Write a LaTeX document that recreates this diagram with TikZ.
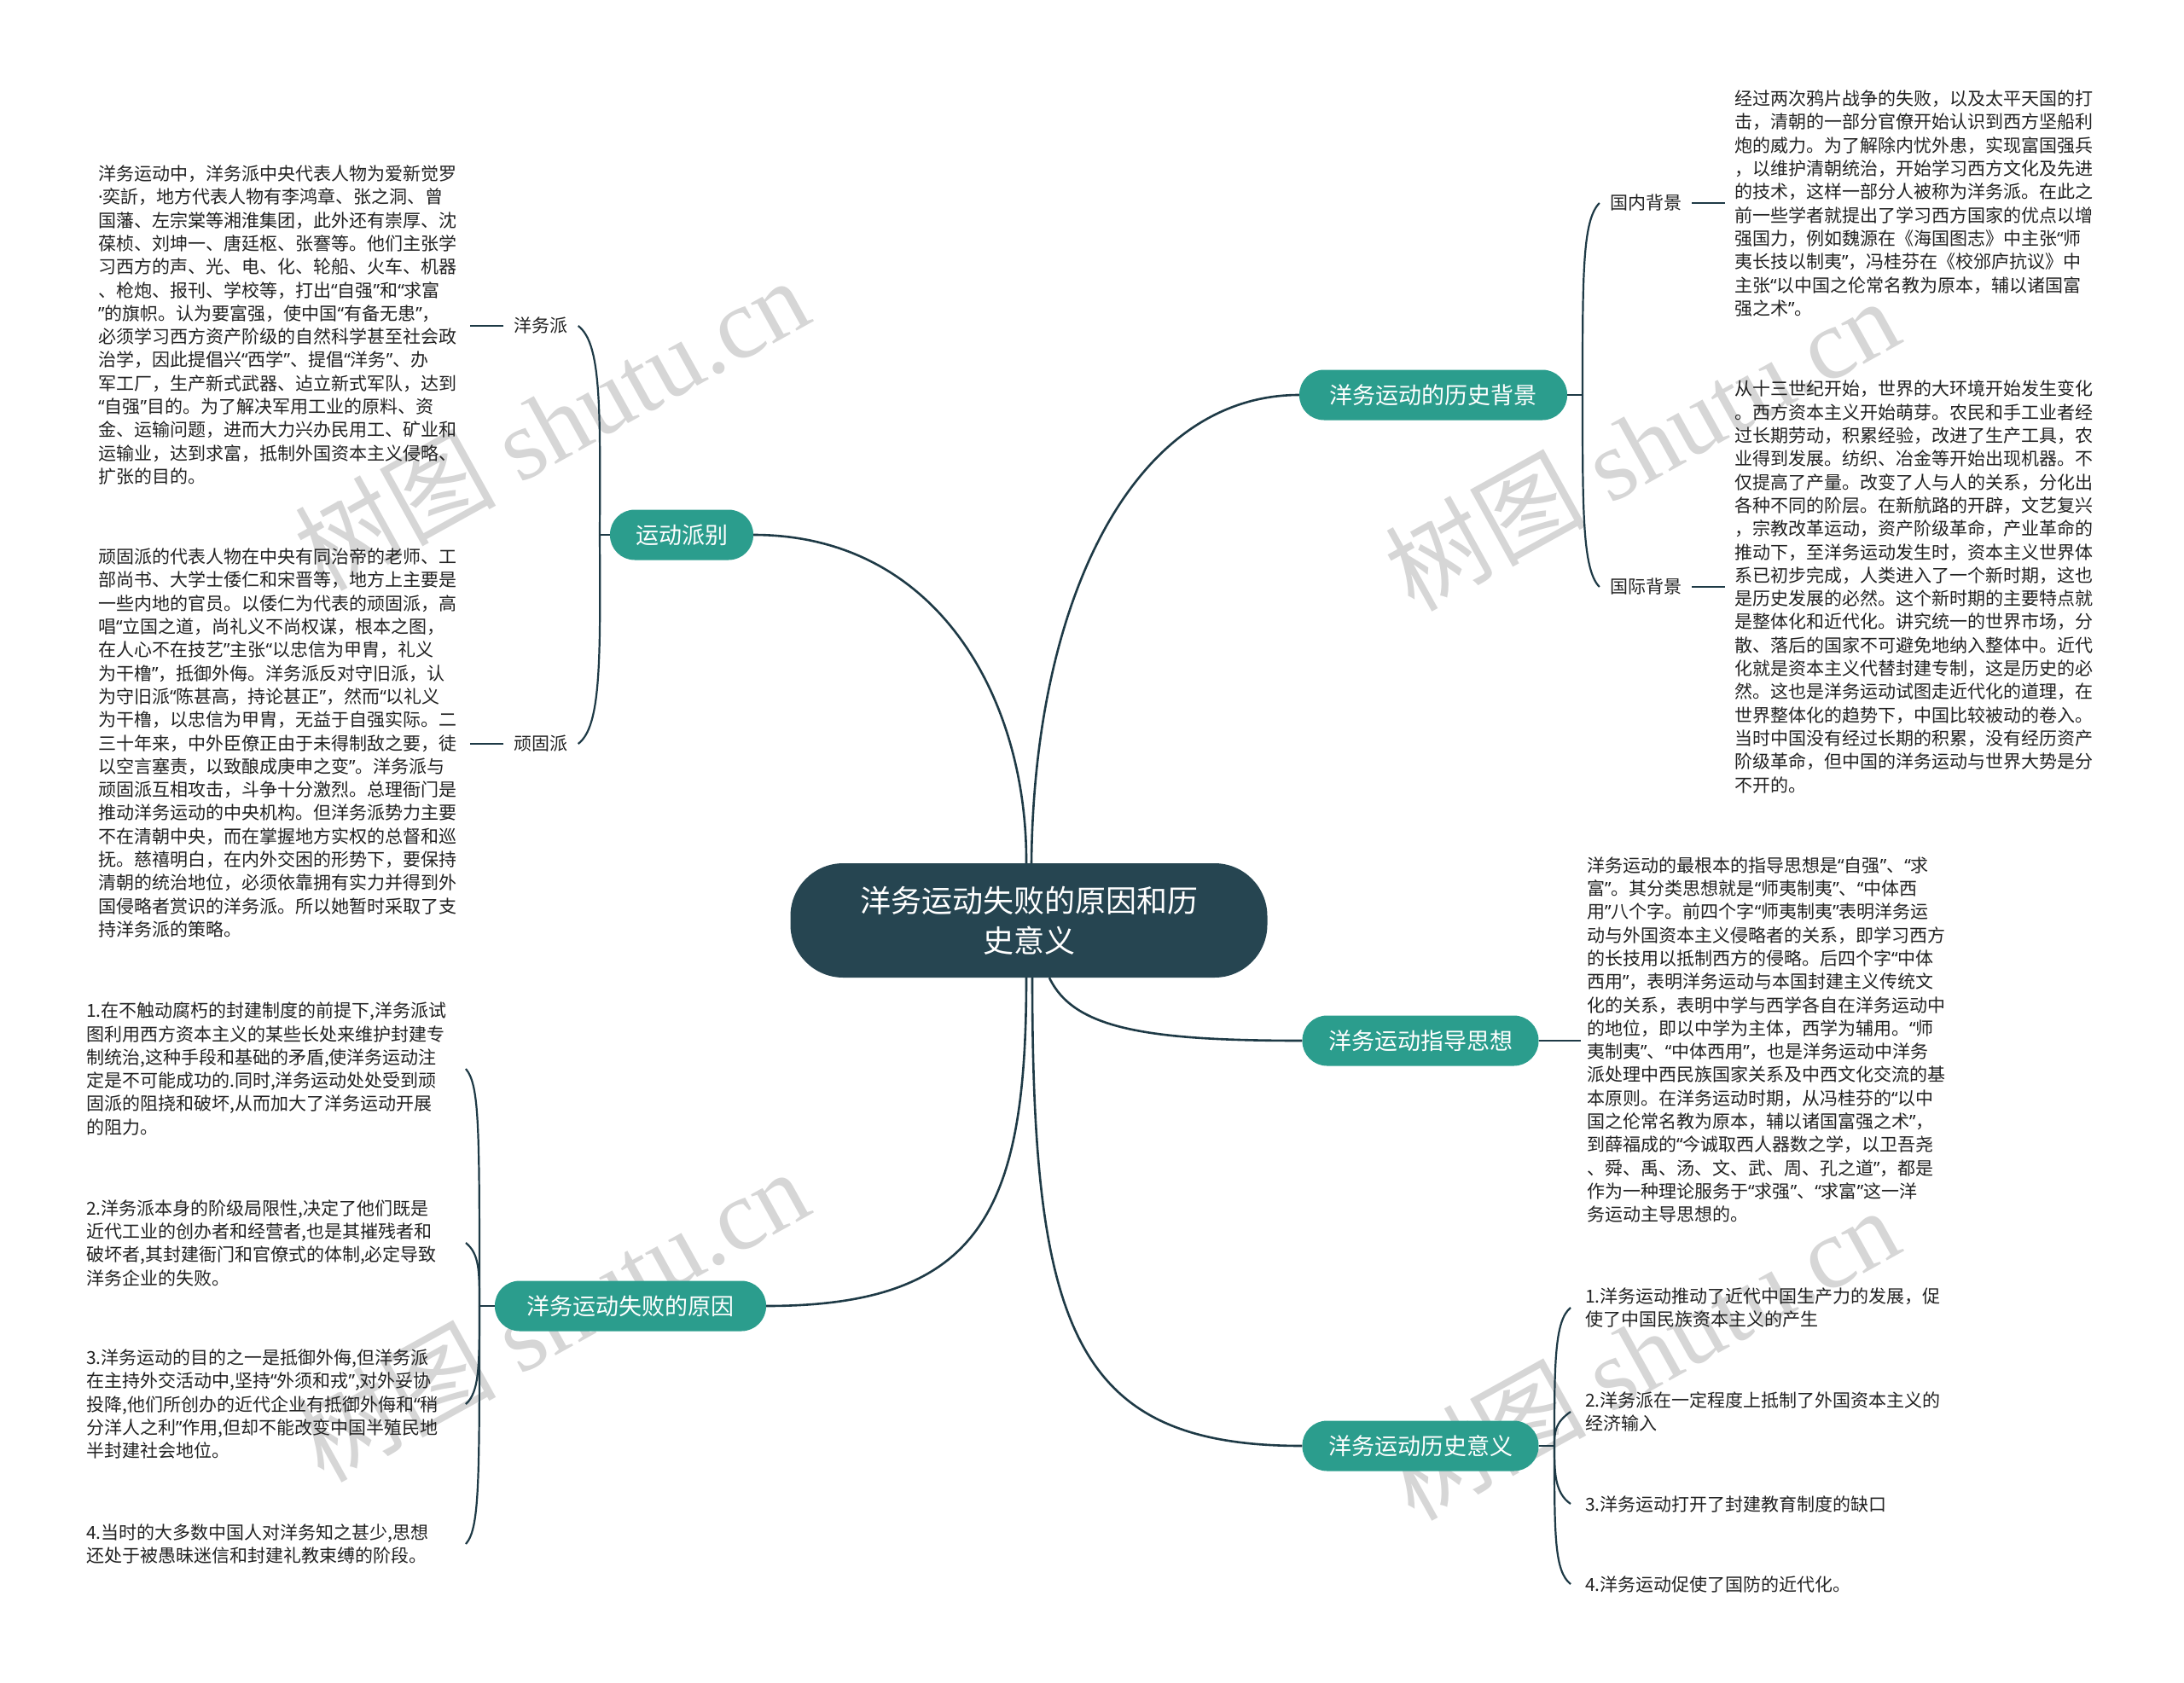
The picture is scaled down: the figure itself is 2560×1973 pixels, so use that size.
\documentclass[tikz,border=0pt]{standalone}
\usepackage{fontspec}
\setmainfont{Noto Sans CJK SC}
\newfontfamily\wmserif{Liberation Serif}
\newfontfamily\qfont{Noto Sans}
\catcode`“=\active
\catcode`”=\active
\def“{{\qfont\symbol{"201C}}}
\def”{{\qfont\symbol{"201D}}}
\definecolor{hubcol}{RGB}{38,69,81}
\definecolor{branchcol}{RGB}{43,157,141}
\definecolor{edgecol}{RGB}{30,58,70}
\definecolor{wmcol}{RGB}{214,214,214}
\definecolor{txtcol}{RGB}{34,34,34}
\newcommand\txtsz{\fontsize{21pt}{27.3pt}\selectfont}
\newcommand\brsz{\fontsize{27pt}{32pt}\selectfont}
\newcommand\hubsz{\fontsize{36pt}{47pt}\selectfont}
\newcommand\wmsz{\fontsize{118pt}{120pt}\selectfont}
\begin{document}
\begin{tikzpicture}[x=1pt,y=-1pt,
  hubnode/.style={fill=hubcol, text=white, rounded corners=62pt, minimum width=559pt, minimum height=134pt, inner sep=0pt, align=center, font=\hubsz},
  branchnode/.style={fill=branchcol, text=white, rounded corners=29pt, minimum height=59pt, inner sep=0pt, font=\brsz},
  leaflabel/.style={inner xsep=12pt, inner ysep=0pt, font=\txtsz, text=txtcol},
  textblock/.style={anchor=west, align=left, inner sep=0pt, font=\txtsz, text=txtcol},
  mainedge/.style={draw=edgecol, line width=2.6pt},
  subedge/.style={draw=edgecol, line width=2.2pt},
  watermark/.style={rotate=29, text=wmcol, font=\wmsz, inner sep=0pt}
]
\useasboundingbox (0,0) rectangle (2560,1973);
\fill[white] (0,0) rectangle (2560,1973);

% watermarks
\node[watermark] (wm1) at (646,496) {树图 {\wmserif shutu.cn}};
\node[watermark] (wm2) at (1924,520) {树图 {\wmserif shutu.cn}};
\node[watermark] (wm3) at (646,1541) {树图 {\wmserif shutu.cn}};
\node[watermark] (wm4) at (1924,1586) {树图 {\wmserif shutu.cn}};

% hub and branches
\node[hubnode] (hub) at (1206,1079) {洋务运动失败的原因和历\\史意义};
\node[branchnode, minimum width=314pt] (bj) at (1680,463) {洋务运动的历史背景};
\node[branchnode, minimum width=168pt] (pb) at (799,627) {运动派别};
\node[branchnode, minimum width=277pt] (zd) at (1665,1220) {洋务运动指导思想};
\node[branchnode, minimum width=318pt] (sb) at (739,1531) {洋务运动失败的原因};
\node[branchnode, minimum width=277pt] (yy) at (1665,1695) {洋务运动历史意义};

% leaf labels
\node[leaflabel] (lblY) at (634,382) {洋务派};
\node[leaflabel] (lblW) at (634,872) {顽固派};
\node[leaflabel] (lblN) at (1929,238) {国内背景};
\node[leaflabel] (lblI) at (1929,688) {国际背景};

% text blocks
\node[textblock] (blkY) at (115,381) {洋务运动中，洋务派中央代表人物为爱新觉罗\\
{\qfont ·}奕訢，地方代表人物有李鸿章、张之洞、曾\\
国藩、左宗棠等湘淮集团，此外还有崇厚、沈\\
葆桢、刘坤一、唐廷枢、张謇等。他们主张学\\
习西方的声、光、电、化、轮船、火车、机器\\
、枪炮、报刊、学校等，打出“自强”和“求富\\
”的旗帜。认为要富强，使中国“有备无患”，\\
必须学习西方资产阶级的自然科学甚至社会政\\
治学，因此提倡兴“西学”、提倡“洋务”、办\\
军工厂，生产新式武器、迠立新式军队，达到\\
“自强”目的。为了解决军用工业的原料、资\\
金、运输问题，进而大力兴办民用工、矿业和\\
运输业，达到求富，抵制外国资本主义侵略、\\
扩张的目的。};

\node[textblock] (blkW) at (115,871) {顽固派的代表人物在中央有同治帝的老师、工\\
部尚书、大学士倭仁和宋晋等，地方上主要是\\
一些内地的官员。以倭仁为代表的顽固派，高\\
唱“立国之道，尚礼义不尚权谋，根本之图，\\
在人心不在技艺”主张“以忠信为甲胄，礼义\\
为干橹”，抵御外侮。洋务派反对守旧派，认\\
为守旧派“陈甚高，持论甚正”，然而“以礼义\\
为干橹，以忠信为甲胄，无益于自强实际。二\\
三十年来，中外臣僚正由于未得制敌之要，徒\\
以空言塞责，以致酿成庚申之变”。洋务派与\\
顽固派互相攻击，斗争十分激烈。总理衙门是\\
推动洋务运动的中央机构。但洋务派势力主要\\
不在清朝中央，而在掌握地方实权的总督和巡\\
抚。慈禧明白，在内外交困的形势下，要保持\\
清朝的统治地位，必须依靠拥有实力并得到外\\
国侵略者赏识的洋务派。所以她暂时采取了支\\
持洋务派的策略。};

\node[textblock] (blkN) at (2033,238.5) {经过两次鸦片战争的失败，以及太平天国的打\\
击，清朝的一部分官僚开始认识到西方坚船利\\
炮的威力。为了解除内忧外患，实现富国强兵\\
，以维护清朝统治，开始学习西方文化及先进\\
的技术，这样一部分人被称为洋务派。在此之\\
前一些学者就提出了学习西方国家的优点以增\\
强国力，例如魏源在《海国图志》中主张“师\\
夷长技以制夷”，冯桂芬在《校邠庐抗议》中\\
主张“以中国之伦常名教为原本，辅以诸国富\\
强之术”。};

\node[textblock] (blkI) at (2033,688) {从十三世纪开始，世界的大环境开始发生变化\\
。西方资本主义开始萌芽。农民和手工业者经\\
过长期劳动，积累经验，改进了生产工具，农\\
业得到发展。纺织、冶金等开始出现机器。不\\
仅提高了产量。改变了人与人的关系，分化出\\
各种不同的阶层。在新航路的开辟，文艺复兴\\
，宗教改革运动，资产阶级革命，产业革命的\\
推动下，至洋务运动发生时，资本主义世界体\\
系已初步完成，人类进入了一个新时期，这也\\
是历史发展的必然。这个新时期的主要特点就\\
是整体化和近代化。讲究统一的世界市场，分\\
散、落后的国家不可避免地纳入整体中。近代\\
化就是资本主义代替封建专制，这是历史的必\\
然。这也是洋务运动试图走近代化的道理，在\\
世界整体化的趋势下，中国比较被动的卷入。\\
当时中国没有经过长期的积累，没有经历资产\\
阶级革命，但中国的洋务运动与世界大势是分\\
不开的。};

\node[textblock] (blkZ) at (1860,1219) {洋务运动的最根本的指导思想是“自强”、“求\\
富”。其分类思想就是“师夷制夷”、“中体西\\
用”八个字。前四个字“师夷制夷”表明洋务运\\
动与外国资本主义侵略者的关系，即学习西方\\
的长技用以抵制西方的侵略。后四个字“中体\\
西用”，表明洋务运动与本国封建主义传统文\\
化的关系，表明中学与西学各自在洋务运动中\\
的地位，即以中学为主体，西学为辅用。“师\\
夷制夷”、“中体西用”，也是洋务运动中洋务\\
派处理中西民族国家关系及中西文化交流的基\\
本原则。在洋务运动时期，从冯桂芬的“以中\\
国之伦常名教为原本，辅以诸国富强之术”，\\
到薛福成的“今诚取西人器数之学，以卫吾尧\\
、舜、禹、汤、文、武、周、孔之道”，都是\\
作为一种理论服务于“求强”、“求富”这一洋\\
务运动主导思想的。};

\node[textblock] (f1) at (101,1253) {1.在不触动腐朽的封建制度的前提下,洋务派试\\
图利用西方资本主义的某些长处来维护封建专\\
制统治,这种手段和基础的矛盾,使洋务运动注\\
定是不可能成功的.同时,洋务运动处处受到顽\\
固派的阻挠和破坏,从而加大了洋务运动开展\\
的阻力。};
\node[textblock] (f2) at (101,1457) {2.洋务派本身的阶级局限性,决定了他们既是\\
近代工业的创办者和经营者,也是其摧残者和\\
破坏者,其封建衙门和官僚式的体制,必定导致\\
洋务企业的失败。};
\node[textblock] (f3) at (101,1646) {3.洋务运动的目的之一是抵御外侮,但洋务派\\
在主持外交活动中,坚持“外须和戎”,对外妥协\\
投降,他们所创办的近代企业有抵御外侮和“稍\\
分洋人之利”作用,但却不能改变中国半殖民地\\
半封建社会地位。};
\node[textblock] (f4) at (101,1810) {4.当时的大多数中国人对洋务知之甚少,思想\\
还处于被愚昧迷信和封建礼教束缚的阶段。};

\node[textblock] (s1) at (1858,1533) {1.洋务运动推动了近代中国生产力的发展，促\\
使了中国民族资本主义的产生};
\node[textblock] (s2) at (1858,1655) {2.洋务派在一定程度上抵制了外国资本主义的\\
经济输入};
\node[textblock] (s3) at (1858,1763) {3.洋务运动打开了封建教育制度的缺口};
\node[textblock] (s4) at (1858,1857) {4.洋务运动促使了国防的近代化。};

% main connectors
\draw[mainedge] ([xshift=-3pt]hub.north) .. controls (1204,820) and (1100,627) .. (pb.east);
\draw[mainedge] ([xshift=3pt]hub.north) .. controls (1212,700) and (1330,463) .. (bj.west);
\draw[mainedge] ([xshift=24pt]hub.south) .. controls (1258,1205) and (1340,1220) .. (zd.west);
\draw[mainedge] ([xshift=-3pt]hub.south) .. controls (1203,1420) and (1150,1531) .. (sb.east);
\draw[mainedge] ([xshift=4pt]hub.south) .. controls (1210,1560) and (1260,1695) .. (yy.west);

% junctions and tips
\coordinate (jP) at (703,627);
\coordinate (jB) at (1855,463);
\coordinate (jS) at (562,1531);
\coordinate (jY) at (1822,1695);
\coordinate (dY) at (551,382);
\coordinate (dW) at (551,872);
\coordinate (dN) at (2022,238);
\coordinate (dI) at (2022,688);
\coordinate (dZ) at (1853,1220);
\coordinate (tf1) at (546,1253);
\coordinate (tf2) at (546,1457);
\coordinate (tf3) at (546,1646);
\coordinate (tf4) at (546,1810);
\coordinate (ts1) at (1841,1533);
\coordinate (ts2) at (1841,1655);
\coordinate (ts3) at (1841,1763);
\coordinate (ts4) at (1841,1857);

% 运动派别 bracket
\draw[subedge] (pb.west) -- (jP);
\draw[subedge] (jP) .. controls (704,470) and (704,402) .. (lblY.east);
\draw[subedge] (jP) .. controls (704,780) and (704,852) .. (lblW.east);
\draw[subedge] (lblY.west) -- (dY);
\draw[subedge] (lblW.west) -- (dW);

% 历史背景 bracket
\draw[subedge] (bj.east) -- (jB);
\draw[subedge] (jB) .. controls (1855,320) and (1855,258) .. (lblN.west);
\draw[subedge] (jB) .. controls (1855,600) and (1855,668) .. (lblI.west);
\draw[subedge] (lblN.east) -- (dN);
\draw[subedge] (lblI.east) -- (dI);

% 指导思想
\draw[subedge] (zd.east) -- (dZ);

% 失败原因 bracket
\draw[subedge] (sb.west) -- (jS);
\draw[subedge] (jS) .. controls (562,1320) and (562,1272) .. (tf1);
\draw[subedge] (jS) .. controls (562,1490) and (562,1470) .. (tf2);
\draw[subedge] (jS) .. controls (562,1600) and (562,1632) .. (tf3);
\draw[subedge] (jS) .. controls (562,1740) and (562,1792) .. (tf4);

% 历史意义 bracket
\draw[subedge] (yy.east) -- (jY);
\draw[subedge] (jY) .. controls (1822,1600) and (1822,1548) .. (ts1);
\draw[subedge] (jY) .. controls (1822,1680) and (1822,1668) .. (ts2);
\draw[subedge] (jY) .. controls (1822,1725) and (1822,1750) .. (ts3);
\draw[subedge] (jY) .. controls (1822,1800) and (1822,1842) .. (ts4);
\end{tikzpicture}
\end{document}
